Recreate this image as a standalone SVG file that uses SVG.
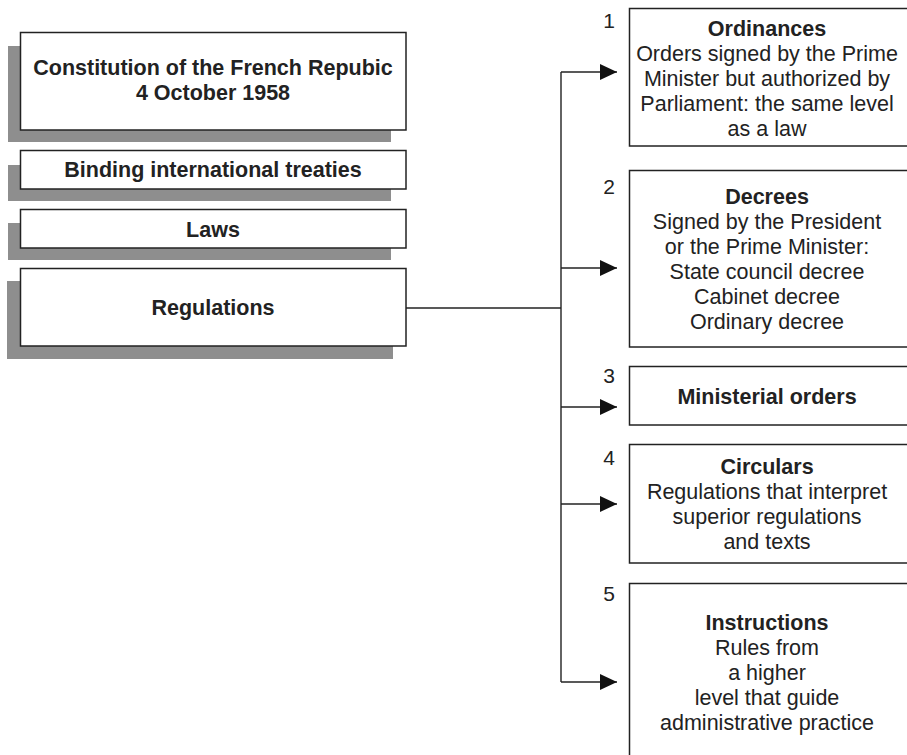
<svg xmlns="http://www.w3.org/2000/svg" width="907" height="755" viewBox="0 0 907 755">
<defs>
<style>
.box{fill:#fff;stroke:#222;stroke-width:1.5}
.shadow{fill:#8e8e8e}
.t{font-family:"Liberation Sans",Arial,Helvetica,sans-serif;font-size:21.5px;fill:#222;text-anchor:middle}
.b{font-weight:bold}
.num{font-family:"Liberation Sans",Arial,Helvetica,sans-serif;font-size:21px;fill:#222;text-anchor:middle}
.conn{fill:none;stroke:#222;stroke-width:1.4}
</style>
<marker id="arr" viewBox="0 0 17 16" refX="17" refY="8" markerWidth="17" markerHeight="16" markerUnits="userSpaceOnUse" orient="auto">
<path d="M0,0 L17,8 L0,16 Z" fill="#111"/>
</marker>
</defs>
<rect width="907" height="755" fill="#fff"/>

<g id="constitution">
<rect class="shadow" x="8" y="46" width="383" height="96"/>
<rect class="box" x="20.5" y="32.5" width="385.5" height="97.5"/>
<text class="t b" x="213" y="75">Constitution of the French Repubic</text>
<text class="t b" x="213" y="100">4 October 1958</text>
</g>

<g id="treaties">
<rect class="shadow" x="8" y="165" width="383" height="36"/>
<rect class="box" x="20.5" y="150.5" width="385.5" height="38.5"/>
<text class="t b" x="213" y="177">Binding international treaties</text>
</g>

<g id="laws">
<rect class="shadow" x="8" y="223" width="383" height="37"/>
<rect class="box" x="20.5" y="209.5" width="385.5" height="38.5"/>
<text class="t b" x="213" y="237">Laws</text>
</g>

<g id="regulations">
<rect class="shadow" x="7" y="281" width="386" height="78"/>
<rect class="box" x="20.5" y="268.5" width="385.5" height="77.5"/>
<text class="t b" x="213" y="315">Regulations</text>
</g>

<g id="connectors">
<path class="conn" d="M406,308 H561"/>
<path class="conn" d="M561,72 V682"/>
<path class="conn" d="M561,72 H617" marker-end="url(#arr)"/>
<path class="conn" d="M561,268 H617" marker-end="url(#arr)"/>
<path class="conn" d="M561,407 H617" marker-end="url(#arr)"/>
<path class="conn" d="M561,504 H617" marker-end="url(#arr)"/>
<path class="conn" d="M561,682 H617" marker-end="url(#arr)"/>
</g>

<g id="ordinances">
<text class="num" x="609" y="28">1</text>
<rect class="box" x="629.5" y="8.5" width="300" height="137.5"/>
<text class="t b" x="767" y="36">Ordinances</text>
<text class="t" x="767" y="61">Orders signed by the Prime</text>
<text class="t" x="767" y="86">Minister but authorized by</text>
<text class="t" x="767" y="111">Parliament: the same level</text>
<text class="t" x="767" y="136">as a law</text>
</g>

<g id="decrees">
<text class="num" x="609" y="194">2</text>
<rect class="box" x="629.5" y="170.5" width="300" height="176.5"/>
<text class="t b" x="767" y="204">Decrees</text>
<text class="t" x="767" y="229">Signed by the President</text>
<text class="t" x="767" y="254">or the Prime Minister:</text>
<text class="t" x="767" y="279">State council decree</text>
<text class="t" x="767" y="304">Cabinet decree</text>
<text class="t" x="767" y="329">Ordinary decree</text>
</g>

<g id="ministerial">
<text class="num" x="609" y="383">3</text>
<rect class="box" x="629.5" y="366.5" width="300" height="58.5"/>
<text class="t b" x="767" y="404">Ministerial orders</text>
</g>

<g id="circulars">
<text class="num" x="609" y="465">4</text>
<rect class="box" x="629.5" y="444.5" width="300" height="118.5"/>
<text class="t b" x="767" y="474">Circulars</text>
<text class="t" x="767" y="499">Regulations that interpret</text>
<text class="t" x="767" y="524">superior regulations</text>
<text class="t" x="767" y="549">and texts</text>
</g>

<g id="instructions">
<text class="num" x="609" y="601">5</text>
<rect class="box" x="629.5" y="583.5" width="300" height="200"/>
<text class="t b" x="767" y="630">Instructions</text>
<text class="t" x="767" y="655">Rules from</text>
<text class="t" x="767" y="680">a higher</text>
<text class="t" x="767" y="705">level that guide</text>
<text class="t" x="767" y="730">administrative practice</text>
</g>
</svg>
